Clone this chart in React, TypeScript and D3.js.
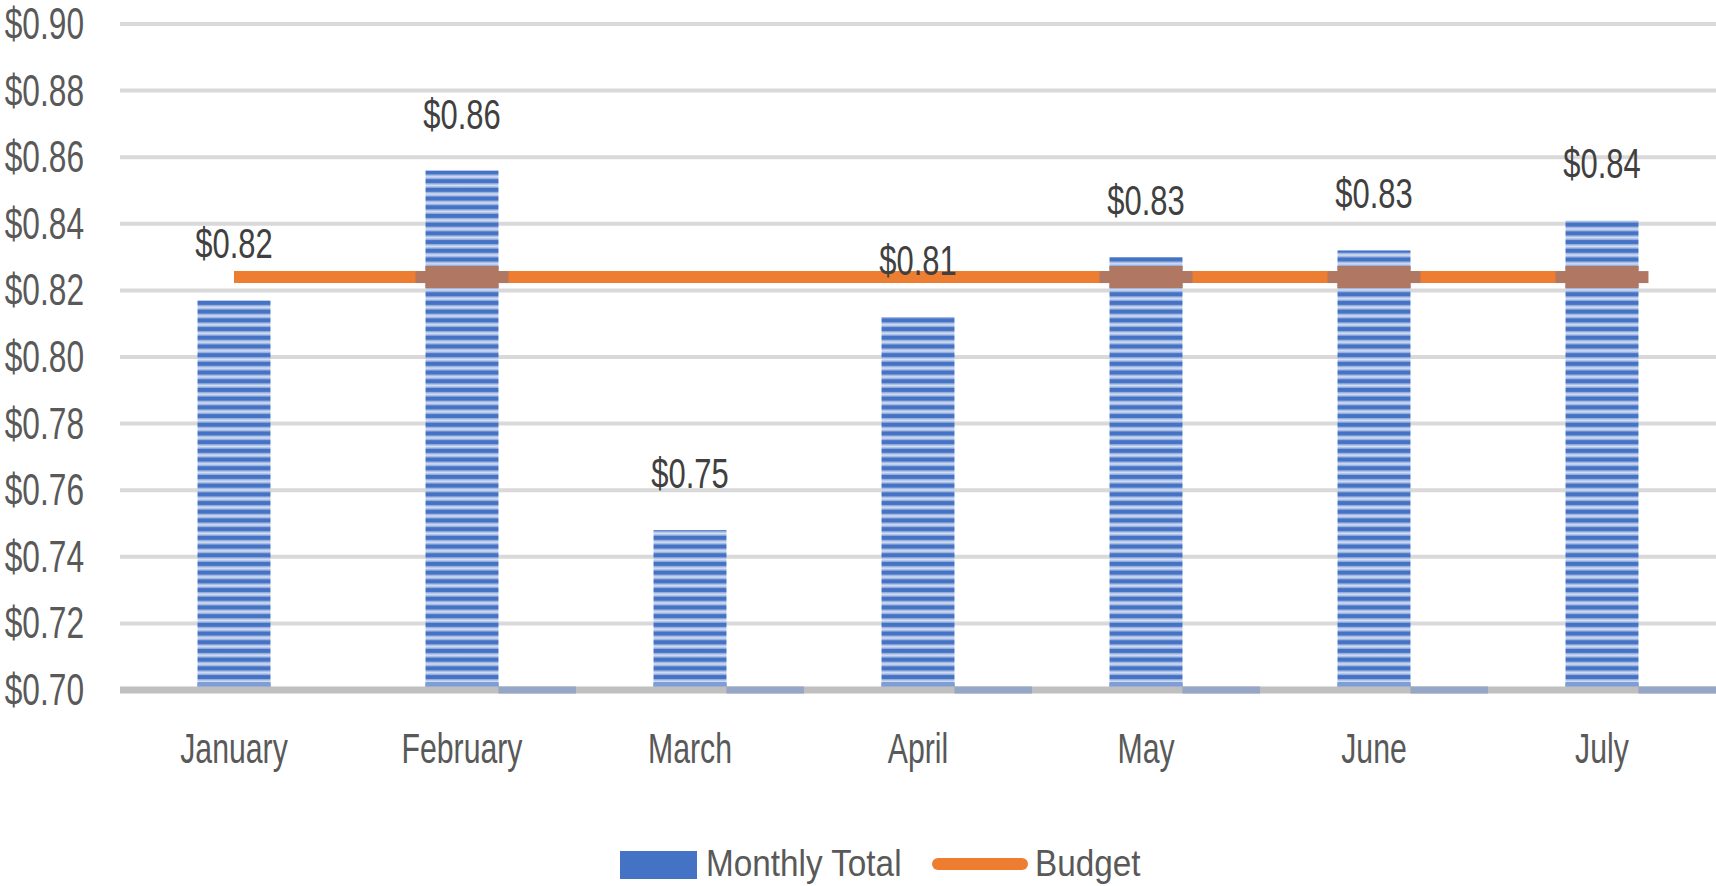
import React from "react";
import * as d3 from "d3";

const months = ["January", "February", "March", "April", "May", "June", "July"];
const monthlyTotal = [0.817, 0.856, 0.748, 0.812, 0.83, 0.832, 0.841];
const budget = [0.824, 0.824, 0.824, 0.824, 0.824, 0.824, 0.824];
const yTicks = [0.7, 0.72, 0.74, 0.76, 0.78, 0.8, 0.82, 0.84, 0.86, 0.88, 0.9];

const width = 1716;
const height = 886;
const margin = { top: 24, right: 0, bottom: 196, left: 120 };

const FONT = "'Liberation Sans', Arial, sans-serif";
const SX = 0.72; // the source text is tall and narrow
const fmt = d3.format("$.2f");

const App = () => {
  const x = d3
    .scaleBand<string>()
    .domain(months)
    .range([margin.left, width - margin.right]);
  const y = d3
    .scaleLinear()
    .domain([0.7, 0.9])
    .range([height - margin.bottom, margin.top]);

  const bw = x.bandwidth() * 0.32;
  const barX = (m: string) => (x(m) as number) + (x.bandwidth() - bw) / 2;
  const cx = (m: string) => (x(m) as number) + x.bandwidth() / 2;

  const line = d3
    .line<number>()
    .x((_, i) => cx(months[i]))
    .y((d) => y(d));

  const baseY = y(0.7);

  return (
    <svg
      width={width}
      height={height}
      style={{ position: "absolute", left: 0, top: 0, background: "#fff" }}
    >
      <defs>
        <linearGradient id="lightStripe" x1="0" y1="0" x2="0" y2="1">
          <stop offset="0" stopColor="#7f9dd6" />
          <stop offset="0.5" stopColor="#d6e0f3" />
          <stop offset="1" stopColor="#7f9dd6" />
        </linearGradient>
        <pattern
          id="stripes"
          patternUnits="userSpaceOnUse"
          width={20}
          height={8.7}
          y={y(monthlyTotal[1])}
        >
          <rect width={20} height={8.7} fill="#4472c4" />
          <rect y={3.8} width={20} height={4.9} fill="url(#lightStripe)" />
        </pattern>
      </defs>

      {/* gridlines */}
      <g>
        {yTicks.slice(1).map((t) => (
          <line
            key={t}
            x1={margin.left}
            x2={width - margin.right}
            y1={y(t)}
            y2={y(t)}
            stroke="#d9d9d9"
            strokeWidth={4}
          />
        ))}
      </g>

      {/* y labels */}
      <g>
        {yTicks.map((t) => (
          <g key={t} transform={`translate(84, ${y(t) + 15}) scale(${SX}, 1)`}>
            <text
              textAnchor="end"
              fontFamily={FONT}
              fontSize={44}
              fill="#595959"
            >
              {fmt(t)}
            </text>
          </g>
        ))}
      </g>

      {/* bars */}
      <g>
        {months.map((m, i) => (
          <g key={m}>
            <rect
              x={barX(m)}
              y={y(monthlyTotal[i])}
              width={bw}
              height={baseY - y(monthlyTotal[i])}
              fill="url(#stripes)"
            />
            <rect
              x={barX(m)}
              y={baseY - 8}
              width={bw}
              height={6}
              fill="#7f9dd6"
            />
          </g>
        ))}
      </g>

      {/* base axis */}
      <line
        x1={margin.left}
        x2={width - margin.right}
        y1={baseY}
        y2={baseY}
        stroke="#bfbfbf"
        strokeWidth={7}
      />
      <g>
        {months.slice(1).map((m) => (
          <line
            key={m}
            x1={barX(m) + bw}
            x2={(x(m) as number) + x.bandwidth()}
            y1={baseY}
            y2={baseY}
            stroke="#95a6c6"
            strokeWidth={7}
          />
        ))}
      </g>

      {/* budget line */}
      <path
        d={line(budget) as string}
        fill="none"
        stroke="#ed7d31"
        strokeWidth={12}
      />
      <g>
        {months.map((m, i) =>
          monthlyTotal[i] > budget[i] ? (
            <g key={m} fill="#b07862">
              <rect
                x={barX(m) - 10}
                y={y(budget[i]) - 6}
                width={bw + 20}
                height={12}
              />
              <rect
                x={barX(m)}
                y={y(budget[i]) - 11}
                width={bw}
                height={22}
              />
            </g>
          ) : null
        )}
      </g>

      {/* data labels */}
      <g>
        {months.map((m, i) => (
          <g
            key={m}
            transform={`translate(${cx(m)}, ${y(monthlyTotal[i]) - 42}) scale(${SX}, 1)`}
          >
            <text
              textAnchor="middle"
              fontFamily={FONT}
              fontSize={43}
              fill="#404040"
            >
              {fmt(monthlyTotal[i])}
            </text>
          </g>
        ))}
      </g>

      {/* month labels */}
      <g>
        {months.map((m) => (
          <g key={m} transform={`translate(${cx(m)}, 763) scale(${SX}, 1)`}>
            <text
              textAnchor="middle"
              fontFamily={FONT}
              fontSize={42}
              fill="#595959"
            >
              {m}
            </text>
          </g>
        ))}
      </g>

      {/* legend */}
      <g>
        <rect x={620} y={851} width={77} height={28} fill="#4472c4" />
        <g transform="translate(706, 876) scale(0.9, 1)">
          <text fontFamily={FONT} fontSize={37} fill="#595959">
            Monthly Total
          </text>
        </g>
        <line
          x1={938}
          x2={1022}
          y1={864}
          y2={864}
          stroke="#ed7d31"
          strokeWidth={12}
          strokeLinecap="round"
        />
        <g transform="translate(1035, 876) scale(0.9, 1)">
          <text fontFamily={FONT} fontSize={37} fill="#595959">
            Budget
          </text>
        </g>
      </g>
    </svg>
  );
};

export default App;
